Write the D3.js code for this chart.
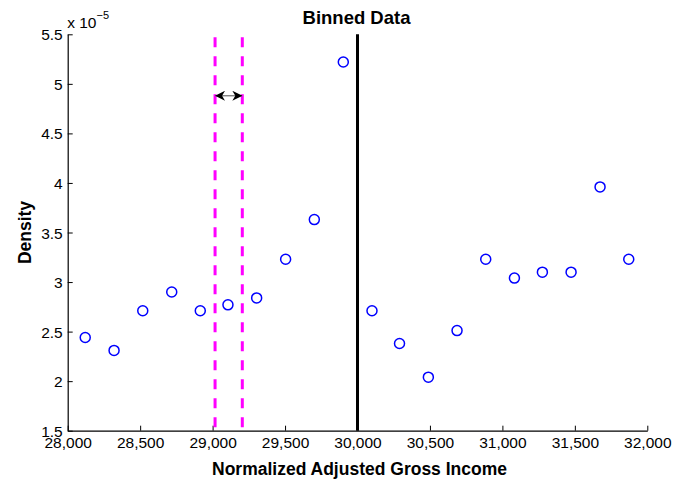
<!DOCTYPE html>
<html>
<head>
<meta charset="utf-8">
<script src="https://cdn.jsdelivr.net/npm/d3@7"></script>
<style>
  html, body { margin: 0; padding: 0; background: #fff; }
  svg { display: block; font-family: Arial, "Liberation Sans", Helvetica, sans-serif; }
</style>
</head>
<body>
<svg id="chart" width="677" height="485"></svg>
<script>
// Bin centres (normalized AGI) and binned density (x 1e-5)
const binCenters = [28121, 28320, 28518, 28718, 28915, 29106, 29304, 29504, 29702, 29902,
                    30100, 30290, 30489, 30687, 30885, 31083, 31276, 31474, 31674, 31872];
const density = [2.44, 2.31, 2.71, 2.90, 2.71, 2.77, 2.84, 3.23, 3.63, 5.22,
                 2.71, 2.38, 2.04, 2.51, 3.23, 3.04, 3.10, 3.10, 3.96, 3.23];
const cutoff = 30000;
const binEdges = [29017, 29205];
const arrowLevel = 4.88;
const xTicks = [28000, 28500, 29000, 29500, 30000, 30500, 31000, 31500, 32000];
const yTicks = [1.5, 2, 2.5, 3, 3.5, 4, 4.5, 5, 5.5];

const svg = d3.select("#chart");
const m = { left: 67.7, right: 677 - 647.3, top: 34.3, bottom: 485 - 430.7 };
const W = 677 - m.left - m.right, H = 485 - m.top - m.bottom;

const x = d3.scaleLinear().domain([28000, 32000]).range([m.left, m.left + W]);
const y = d3.scaleLinear().domain([1.5, 5.5]).range([m.top + H, m.top]);

// Axes with inward ticks
const fmt = d3.format(",");
const xAxis = svg.append("g").attr("transform", `translate(0,${m.top + H})`)
  .call(d3.axisBottom(x).tickValues(xTicks).tickFormat(fmt).tickSizeInner(-5).tickSizeOuter(0).tickPadding(6));
const yAxis = svg.append("g").attr("transform", `translate(${m.left},0)`)
  .call(d3.axisLeft(y).tickValues(yTicks).tickFormat(d => String(d)).tickSizeInner(-5).tickSizeOuter(0).tickPadding(5));
[xAxis, yAxis].forEach(g => {
  g.select(".domain").attr("stroke", "#000").attr("stroke-width", 1.2);
  g.selectAll(".tick line").attr("stroke", "#000").attr("stroke-width", 1);
  g.selectAll(".tick text").attr("fill", "#000").style("font-size", "15.5px")
    .style("font-family", "Arial, 'Liberation Sans', sans-serif");
});
xAxis.selectAll(".tick text").attr("dy", "0.71em");
yAxis.selectAll(".tick text").attr("dy", "0.36em");

// Exponent label
const expo = svg.append("text").attr("x", m.left - 0.5).attr("y", 28)
  .style("font-size", "15.5px").attr("fill", "#000");
expo.append("tspan").text("x 10");
expo.append("tspan").attr("dy", -9).style("font-size", "11px").text("\u22125");

// Magenta dashed bin-edge lines
svg.selectAll("line.edge").data(binEdges).join("line")
  .attr("class", "edge")
  .attr("x1", d => x(d)).attr("x2", d => x(d))
  .attr("y1", y(5.47)).attr("y2", y(1.5))
  .attr("stroke", "#ff00ff").attr("stroke-width", 3)
  .attr("stroke-dasharray", "10,9");

// Black cutoff line
svg.append("line")
  .attr("x1", x(cutoff)).attr("x2", x(cutoff))
  .attr("y1", y(5.5)).attr("y2", y(1.5))
  .attr("stroke", "#000").attr("stroke-width", 3);

// Double-headed arrow marking bin width
const defs = svg.append("defs");
defs.append("marker").attr("id", "head").attr("viewBox", "0 0 10 10")
  .attr("refX", 10).attr("refY", 5).attr("markerWidth", 10).attr("markerHeight", 10)
  .attr("markerUnits", "userSpaceOnUse").attr("orient", "auto-start-reverse")
  .append("path").attr("d", "M0,0 L10,5 L0,10 L3,5 Z").attr("fill", "#000");
svg.append("line")
  .attr("x1", x(binEdges[0])).attr("x2", x(binEdges[1]))
  .attr("y1", y(arrowLevel)).attr("y2", y(arrowLevel))
  .attr("stroke", "#777").attr("stroke-width", 1.3)
  .attr("marker-start", "url(#head)").attr("marker-end", "url(#head)");

// Binned density points
svg.selectAll("circle.pt").data(binCenters).join("circle")
  .attr("class", "pt")
  .attr("cx", d => x(d)).attr("cy", (d, i) => y(density[i]))
  .attr("r", 5).attr("fill", "none").attr("stroke", "#0000ff").attr("stroke-width", 1.5);

// Title and axis labels
svg.append("text").attr("x", x(30000) - 1).attr("y", 24).attr("text-anchor", "middle")
  .style("font-size", "18.5px").style("font-weight", "bold").text("Binned Data");
svg.append("text").attr("x", m.left + W / 2 + 2).attr("y", 475).attr("text-anchor", "middle")
  .style("font-size", "17.5px").style("font-weight", "bold").text("Normalized Adjusted Gross Income");
svg.append("text").attr("transform", `translate(31,${m.top + H / 2}) rotate(-90)`)
  .attr("text-anchor", "middle")
  .style("font-size", "17.5px").style("font-weight", "bold").text("Density");
</script>
</body>
</html>
